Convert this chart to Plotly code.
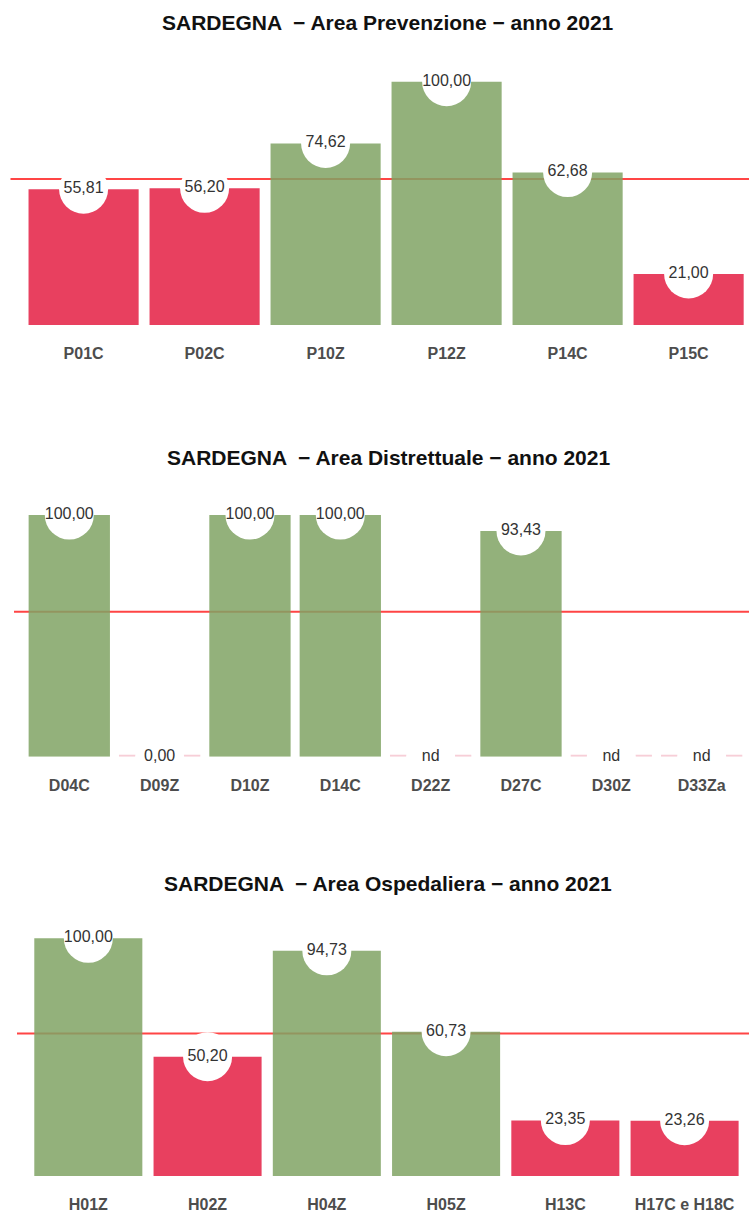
import plotly.graph_objects as go

# ---------------- data ----------------
title_prev = "SARDEGNA  \u2212 Area Prevenzione \u2212 anno 2021"
cats_prev = ["P01C", "P02C", "P10Z", "P12Z", "P14C", "P15C"]
vals_prev = [55.81, 56.20, 74.62, 100.00, 62.68, 21.00]

title_dist = "SARDEGNA  \u2212 Area Distrettuale \u2212 anno 2021"
cats_dist = ["D04C", "D09Z", "D10Z", "D14C", "D22Z", "D27C", "D30Z", "D33Za"]
vals_dist = [100.00, 0.00, 100.00, 100.00, None, 93.43, None, None]

title_osp = "SARDEGNA  \u2212 Area Ospedaliera \u2212 anno 2021"
cats_osp = ["H01Z", "H02Z", "H04Z", "H05Z", "H13C", "H17C e H18C"]
vals_osp = [100.00, 50.20, 94.73, 60.73, 23.35, 23.26]

threshold = 60

# ---------------- style ----------------
W, H = 749, 1212
GREEN = "#80A364"
RED = "#E41E43"
PINK = "#F6C6D0"
LINE_RED = "#FF4545"
FONT = "Liberation Sans"

panels = [
    # title, cats, vals, x-left px, x-range, baseline px, px per unit, title y px, bar width
    (title_prev, cats_prev, vals_prev, 10.5, [-0.604, 5.499], 325.0, 2.433, 23, 0.91),
    (title_dist, cats_dist, vals_dist, 14.0, [-0.612, 7.524], 756.7, 2.417, 458, 0.90),
    (title_osp, cats_osp, vals_osp, 17.0, [-0.598, 5.54], 1176.0, 2.377, 883, 0.906),
]

fig = go.Figure()
layout = dict(
    width=W, height=H, margin=dict(l=0, r=0, t=0, b=0),
    paper_bgcolor="white", plot_bgcolor="white", showlegend=False,
    annotations=[], shapes=[],
)

YMAX = 110
for i, (title, cats, vals, xl, xr, base_px, ppu, ty, bw) in enumerate(panels):
    n = i + 1
    xa = "x" if n == 1 else f"x{n}"
    ya = "y" if n == 1 else f"y{n}"
    xkey = "xaxis" if n == 1 else f"xaxis{n}"
    ykey = "yaxis" if n == 1 else f"yaxis{n}"

    heights, colors, texts, ypos = [], [], [], []
    for v in vals:
        if v is None or v == 0:
            heights.append(0.42)
            colors.append(PINK)
            ypos.append(0)
        else:
            heights.append(v)
            colors.append(GREEN if v >= threshold else RED)
            ypos.append(v)
        texts.append("nd" if v is None else f"{v:.2f}".replace(".", ","))

    fig.add_trace(go.Bar(
        x=cats, y=heights, width=bw, marker=dict(color=colors, opacity=0.85, line=dict(width=0)),
        xaxis=xa, yaxis=ya, hoverinfo="skip",
    ))
    fig.add_trace(go.Scatter(
        x=cats, y=ypos, mode="markers+text", text=texts, textposition="middle center",
        textfont=dict(family=FONT, size=16, color="#333333"),
        marker=dict(size=49, color="white", line=dict(width=0)),
        cliponaxis=False, xaxis=xa, yaxis=ya, hoverinfo="skip",
    ))

    top_px = base_px - YMAX * ppu
    layout[xkey] = dict(
        domain=[xl / W, 1], range=xr, showgrid=False, zeroline=False, showline=False,
        ticks="", type="category", anchor=ya, fixedrange=True,
        tickfont=dict(family=FONT, size=16, color="#4D4D4D", weight="bold"),
        ticklabelstandoff=17,
    )
    layout[ykey] = dict(
        domain=[1 - base_px / H, 1 - top_px / H], range=[0, YMAX], showgrid=False,
        zeroline=False, showline=False, showticklabels=False, ticks="", anchor=xa,
        fixedrange=True,
    )
    layout["shapes"].append(dict(
        type="line", xref=f"{xa} domain", yref=ya, x0=0, x1=1, y0=threshold, y1=threshold,
        line=dict(color=LINE_RED, width=2), layer="below",
    ))
    layout["annotations"].append(dict(
        text=f"<b>{title}</b>", xref="paper", yref="paper", x=388 / W, y=1 - ty / H,
        xanchor="center", yanchor="middle", showarrow=False,
        font=dict(family=FONT, size=21, color="#111111"),
    ))

fig.update_layout(**layout)
fig.write_html(
    "out.html",
    config={"displayModeBar": False},
    post_script="document.body.style.margin='0';document.body.style.overflow='hidden';",
)
